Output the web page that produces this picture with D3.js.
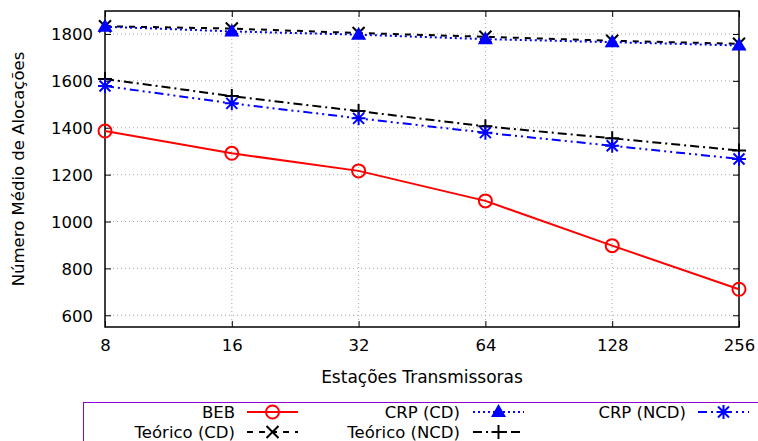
<!DOCTYPE html>
<html><head><meta charset="utf-8">
<script src="https://cdn.jsdelivr.net/npm/d3@7"></script>
<style>body{margin:0;background:#fff}svg{display:block;font-family:"DejaVu Sans",sans-serif}</style>
</head><body><svg id="c" width="758" height="441"></svg>
<script>
const categories = [8, 16, 32, 64, 128, 256];
const yTicks = [600, 800, 1000, 1200, 1400, 1600, 1800];
const beb = [1386, 1291, 1216, 1088, 897, 711];
const crpCD = [1831, 1811, 1797, 1778, 1765, 1751];
const crpNCD = [1578, 1504, 1440, 1379, 1323, 1267];
const teoCD = [1833, 1823, 1804, 1788, 1771, 1758];
const teoNCD = [1608, 1535, 1471, 1406, 1355, 1303];
const seriesNames = ["BEB", "CRP (CD)", "CRP (NCD)", "Teórico (CD)", "Teórico (NCD)"];

const svg = d3.select("#c");
const L = 105, R = 739, T = 11, B = 327;
const x = d3.scaleLog().base(2).domain([8, 256]).range([L, R]);
const y = d3.scaleLinear().domain([550, 1898]).range([B, T]);

// grid
const g = svg.append("g");
g.selectAll(".gy").data(yTicks).join("line")
  .attr("x1", L).attr("x2", R).attr("y1", d => y(d)).attr("y2", d => y(d))
  .attr("stroke", "#a8a8a8").attr("stroke-width", 1).attr("stroke-dasharray", "1,3");
g.selectAll(".gx").data(categories.slice(1, -1)).join("line")
  .attr("y1", T).attr("y2", B).attr("x1", d => x(d)).attr("x2", d => x(d))
  .attr("stroke", "#a8a8a8").attr("stroke-width", 1).attr("stroke-dasharray", "1,3");

// axes
const fs = "16.5px";
const ax = svg.append("g").attr("transform", `translate(0,${B})`)
  .call(d3.axisBottom(x).tickValues(categories).tickFormat(d3.format("d")).tickSize(-6).tickPadding(12));
const axT = svg.append("g").attr("transform", `translate(0,${T})`)
  .call(d3.axisTop(x).tickValues(categories).tickFormat("").tickSize(-6));
const ay = svg.append("g").attr("transform", `translate(${L},0)`)
  .call(d3.axisLeft(y).tickValues(yTicks).tickFormat(d3.format("d")).tickSize(-6).tickPadding(12));
const ayR = svg.append("g").attr("transform", `translate(${R},0)`)
  .call(d3.axisRight(y).tickValues(yTicks).tickFormat("").tickSize(-6));
[ax, axT, ay, ayR].forEach(a => {
  a.select(".domain").remove();
  a.selectAll("line").attr("stroke", "#000").attr("stroke-width", 1);
  a.selectAll("text").attr("font-size", fs).attr("fill", "#000").attr("font-family", "DejaVu Sans");
});
ay.selectAll("text").attr("dy", "0.36em");
svg.append("rect").attr("x", L).attr("y", T).attr("width", R - L).attr("height", B - T)
  .attr("fill", "none").attr("stroke", "#000").attr("stroke-width", 1.5);

svg.append("text").attr("transform", `translate(24,${(T + B) / 2}) rotate(-90)`)
  .attr("text-anchor", "middle").attr("font-size", fs).text("Número Médio de Alocações");
svg.append("text").attr("x", (L + R) / 2).attr("y", 383).attr("text-anchor", "middle")
  .attr("font-size", "17px").text("Estações Transmissoras");

// markers
function marker(sel, type, color) {
  if (type === "circle") sel.append("circle").attr("r", 6.5).attr("fill", "none").attr("stroke", color).attr("stroke-width", 2);
  else if (type === "tri") sel.append("path").attr("d", "M0,-8L7.5,5L-7.5,5Z").attr("fill", color);
  else if (type === "x") sel.append("path").attr("d", "M-6,-6L6,6M-6,6L6,-6").attr("stroke", color).attr("stroke-width", 2);
  else if (type === "plus") sel.append("path").attr("d", "M-7,0L7,0M0,-7L0,7").attr("stroke", color).attr("stroke-width", 2);
  else if (type === "star") sel.append("path").attr("d", "M-7,0L7,0M0,-7L0,7M-5.5,-5.5L5.5,5.5M-5.5,5.5L5.5,-5.5").attr("stroke", color).attr("stroke-width", 2);
}
const series = [
  {name: seriesNames[3], vals: teoCD, color: "#000", dash: "6,6", m: "x"},
  {name: seriesNames[4], vals: teoNCD, color: "#000", dash: "9,4,2,4", m: "plus"},
  {name: seriesNames[2], vals: crpNCD, color: "#0000ff", dash: "9,4,2,4,2,4", m: "star"},
  {name: seriesNames[1], vals: crpCD, color: "#0000ff", dash: "2,3", m: "tri"},
  {name: seriesNames[0], vals: beb, color: "#ff0000", dash: null, m: "circle"},
];
const line = d3.line().x((d, i) => x(categories[i])).y(d => y(d));
series.forEach(s => {
  svg.append("path").datum(s.vals).attr("d", line).attr("fill", "none")
    .attr("stroke", s.color).attr("stroke-width", 2).attr("stroke-dasharray", s.dash);
  s.vals.forEach((v, i) => {
    const gg = svg.append("g").attr("transform", `translate(${x(categories[i])},${y(v)})`);
    marker(gg, s.m, s.color);
  });
});

// legend
svg.append("rect").attr("x", 83.5).attr("y", 402.5).attr("width", 700).attr("height", 60)
  .attr("fill", "none").attr("stroke", "#9400d3").attr("stroke-width", 1);
const leg = [
  {s: series[4], tx: 235, lx: 247, ty: 412},
  {s: series[3], tx: 460, lx: 473, ty: 412},
  {s: series[2], tx: 686, lx: 698, ty: 412},
  {s: series[0], tx: 235, lx: 247, ty: 432},
  {s: series[1], tx: 460, lx: 473, ty: 432},
];
leg.forEach(e => {
  svg.append("text").attr("x", e.tx).attr("y", e.ty).attr("dy", "0.36em").attr("text-anchor", "end")
    .attr("font-size", fs).text(e.s.name);
  svg.append("line").attr("x1", e.lx).attr("x2", e.lx + 51).attr("y1", e.ty).attr("y2", e.ty)
    .attr("stroke", e.s.color).attr("stroke-width", 2).attr("stroke-dasharray", e.s.dash);
  marker(svg.append("g").attr("transform", `translate(${e.lx + 25.5},${e.ty})`), e.s.m, e.s.color);
});
</script></body></html>
